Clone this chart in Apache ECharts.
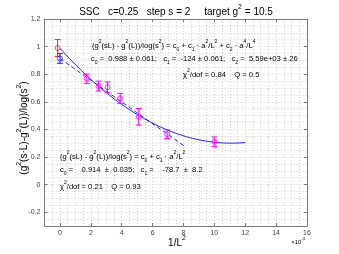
<!DOCTYPE html>
<html><head><meta charset="utf-8">
<script src="https://cdn.jsdelivr.net/npm/echarts@6/dist/echarts.min.js"></script>
<style>html,body{margin:0;padding:0;background:#fff}#c{width:339px;height:254px}</style>
</head><body><div id="c"></div>
<script>
// x values in units of 1e-3 (1/L^2)
const xMagenta = [1.736, 2.5, 3.086, 3.906, 5.102, 6.944, 10.0];
const yMagenta = [0.767, 0.714, 0.705, 0.625, 0.491, 0.366, 0.311];
const eMagenta = [0.034, 0.036, 0.039, 0.036, 0.06, 0.031, 0.034];
const xRed = [-0.15];
const yRed = [0.99];
const eRed = [0.061];
const xBlue = [0];
const yBlue = [0.914];
const eBlue = [0.035];
// fit coefficients shown in the chart
const fitQuad = [0.988, -124, 5590];
const fitQuadRange = [0, 12];
const fitLin = [0.914, -78.7];
const fitLinRange = [0, 8];
const xTickLabels = [0, 2, 4, 6, 8, 10, 12, 14, 16];
const yTickLabels = [-0.2, 0, 0.2, 0.4, 0.6, 0.8, 1, 1.2];

const FONT = 'Liberation Sans, Arial, sans-serif';
const AX = '#7a7a7a';
const GRIDC = '#d2d2d2';

function fitCurve(c, range, n) {
  const pts = [];
  for (let i = 0; i <= n; i++) {
    const x = range[0] + (range[1] - range[0]) * i / n;
    const t = x * 1e-3;
    let y = 0;
    for (let k = 0; k < c.length; k++) y += c[k] * Math.pow(t, k);
    pts.push([x, y]);
  }
  return pts;
}
function zip3(a, b, c) { return a.map((v, i) => [v, b[i], c[i]]); }

function errBar(color) {
  return function (params, api) {
    const x = api.value(0), y = api.value(1), e = api.value(2);
    const p1 = api.coord([x, y - e]), p2 = api.coord([x, y + e]);
    const w = 3;
    const st = { stroke: color, lineWidth: 1 };
    return { type: 'group', children: [
      { type: 'line', shape: { x1: p1[0], y1: p1[1], x2: p2[0], y2: p2[1] }, style: st },
      { type: 'line', shape: { x1: p1[0] - w, y1: p1[1], x2: p1[0] + w, y2: p1[1] }, style: st },
      { type: 'line', shape: { x1: p2[0] - w, y1: p2[1], x2: p2[0] + w, y2: p2[1] }, style: st }
    ]};
  };
}

// rich-text helper: ^{..} superscript, _{..} subscript
function rt(s) {
  return '{n|' + s.replace(/\^\{([^}]*)\}/g, '}{sup|$1}{n|').replace(/_\{([^}]*)\}/g, '}{sub|$1}{n|') + '}';
}
function richStyle(fs, color) {
  return {
    n: { fontSize: fs, fontFamily: FONT, color: color, lineHeight: Math.round(fs * 1.7), verticalAlign: 'middle' },
    sup: { fontSize: Math.round(fs * 0.7), fontFamily: FONT, color: color, lineHeight: Math.round(fs * 0.9), verticalAlign: 'top' },
    sub: { fontSize: Math.round(fs * 0.7), fontFamily: FONT, color: color, lineHeight: Math.round(fs * 0.9), verticalAlign: 'bottom' }
  };
}
function txt(x, y, s, fs, color, align, rot) {
  return { type: 'text', x: x, y: y, rotation: rot || 0, z: 100,
    style: { text: rt(s), rich: richStyle(fs, color), align: align || 'left', verticalAlign: 'middle' } };
}

const chart = echarts.init(document.getElementById('c'), null, { renderer: 'canvas' });
const gridRect = { left: 44.5, right: 32, top: 19, bottom: 28 };
const tickStyle = { color: AX, width: 1 };

chart.setOption({
  animation: false,
  backgroundColor: '#fff',
  grid: [Object.assign({}, gridRect), Object.assign({}, gridRect)],
  xAxis: [
    { type: 'value', gridIndex: 0, min: -1, max: 16, interval: 0.5, position: 'bottom',
      axisLine: { show: false }, axisTick: { show: false }, axisLabel: { show: false },
      splitLine: { show: true, lineStyle: { color: GRIDC, type: [1, 2], width: 1 } } },
    { type: 'value', gridIndex: 1, min: -1, max: 16, position: 'bottom',
      axisLine: { show: true, onZero: false, lineStyle: tickStyle },
      axisTick: { show: true, inside: true, length: 3, customValues: xTickLabels, lineStyle: tickStyle },
      axisLabel: { show: true, customValues: xTickLabels, fontSize: 7, color: '#444', margin: 4, fontFamily: FONT },
      splitLine: { show: false } },
    { type: 'value', gridIndex: 1, min: -1, max: 16, position: 'top',
      axisLine: { show: true, onZero: false, lineStyle: tickStyle },
      axisTick: { show: true, inside: true, length: 3, customValues: xTickLabels, lineStyle: tickStyle },
      axisLabel: { show: false }, splitLine: { show: false } }
  ],
  yAxis: [
    { type: 'value', gridIndex: 0, min: -0.3, max: 1.2, interval: 0.05, position: 'left',
      axisLine: { show: false }, axisTick: { show: false }, axisLabel: { show: false },
      splitLine: { show: true, lineStyle: { color: GRIDC, type: [1, 2], width: 1 } } },
    { type: 'value', gridIndex: 1, min: -0.3, max: 1.2, position: 'left',
      axisLine: { show: true, onZero: false, lineStyle: tickStyle },
      axisTick: { show: true, inside: true, length: 3, customValues: yTickLabels, lineStyle: tickStyle },
      axisLabel: { show: true, customValues: yTickLabels, fontSize: 7, color: '#444', margin: 4, fontFamily: FONT },
      splitLine: { show: false } },
    { type: 'value', gridIndex: 1, min: -0.3, max: 1.2, position: 'right',
      axisLine: { show: true, onZero: false, lineStyle: tickStyle },
      axisTick: { show: true, inside: true, length: 3, customValues: yTickLabels, lineStyle: tickStyle },
      axisLabel: { show: false }, splitLine: { show: false } }
  ],
  series: [
    { type: 'line', xAxisIndex: 0, yAxisIndex: 0, data: fitCurve(fitQuad, fitQuadRange, 60),
      showSymbol: false, symbol: 'none', lineStyle: { color: '#2020ff', width: 1 }, z: 3 },
    { type: 'line', xAxisIndex: 0, yAxisIndex: 0, data: fitCurve(fitLin, fitLinRange, 2),
      showSymbol: false, symbol: 'none', lineStyle: { color: '#2020ff', width: 1, type: [4, 3] }, z: 3 },
    { type: 'custom', xAxisIndex: 0, yAxisIndex: 0, renderItem: errBar('#ff00ff'),
      data: zip3(xMagenta, yMagenta, eMagenta), z: 4 },
    { type: 'custom', xAxisIndex: 0, yAxisIndex: 0, renderItem: errBar('#ff2020'),
      data: zip3(xRed, yRed, eRed), z: 4 },
    { type: 'custom', xAxisIndex: 0, yAxisIndex: 0, renderItem: errBar('#2020ff'),
      data: zip3(xBlue, yBlue, eBlue), z: 4 },
    { type: 'scatter', xAxisIndex: 0, yAxisIndex: 0, data: xMagenta.map((v, i) => [v, yMagenta[i]]),
      symbol: 'circle', symbolSize: 5, itemStyle: { color: 'rgba(0,0,0,0)', borderColor: '#ff00ff', borderWidth: 1 }, z: 5 },
    { type: 'scatter', xAxisIndex: 0, yAxisIndex: 0, data: xRed.map((v, i) => [v, yRed[i]]),
      symbol: 'circle', symbolSize: 5, itemStyle: { color: 'rgba(0,0,0,0)', borderColor: '#ff2020', borderWidth: 1 }, z: 5 },
    { type: 'scatter', xAxisIndex: 0, yAxisIndex: 0, data: xBlue.map((v, i) => [v, yBlue[i]]),
      symbol: 'circle', symbolSize: 5, itemStyle: { color: 'rgba(0,0,0,0)', borderColor: '#2020ff', borderWidth: 1 }, z: 5 }
  ],
  graphic: [
    { type: 'text', x: 176, y: 12, z: 100,
      style: { text: '{n|SSC   c=0.25   step s = 2}{n|     }{r|target g}{rs|2}{r| = 10.5}', align: 'center', verticalAlign: 'middle',
        rich: {
          n: { fontSize: 10, fontFamily: FONT, color: '#1a1a1a', lineHeight: 16, verticalAlign: 'middle' },
          r: { fontSize: 10, fontFamily: FONT, color: '#ff2020', lineHeight: 16, verticalAlign: 'middle' },
          rs: { fontSize: 7, fontFamily: FONT, color: '#ff2020', lineHeight: 8, verticalAlign: 'top' }
        } } },
    txt(92, 46, '(g^{2}(sL) - g^{2}(L))/log(s^{2}) = c_{0} + c_{1} · a^{2}/L^{2} + c_{2} · a^{4}/L^{4}', 7.6, '#262626'),
    txt(91, 59, 'c_{0} =  0.988 ± 0.061;   c_{1} =  -124 ± 0.061;   c_{2} =  5.59e+03 ± 26', 7.6, '#262626'),
    txt(183, 75, 'χ^{2}/dof = 0.84    Q = 0.5', 7.6, '#262626'),
    txt(60, 157, '(g^{2}(sL) - g^{2}(L))/log(s^{2}) = c_{0} + c_{1} · a^{2}/L^{2}', 7.6, '#262626'),
    txt(60, 170, 'c_{0} =    0.914  ±  0.035;   c_{1} =    -78.7  ±  8.2', 7.6, '#262626'),
    txt(60, 187, 'χ^{2}/dof = 0.21    Q = 0.93', 7.6, '#262626'),
    txt(177, 243, '1/L^{2}', 10, '#262626', 'center'),
    txt(298, 242, '×10^{-3}', 6, '#444', 'center'),
    txt(24, 128, '(g^{2}(s·L)-g^{2}(L))/log(s^{2})', 10, '#262626', 'center', Math.PI / 2)
  ]
});
</script>
</body></html>
